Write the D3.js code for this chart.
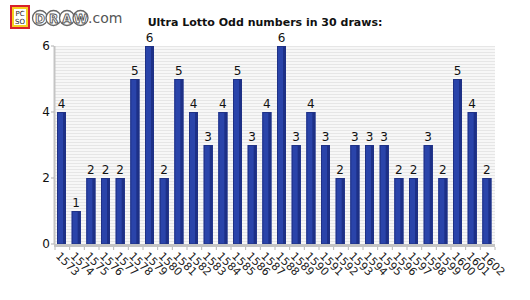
<!DOCTYPE html>
<html>
<head>
<meta charset="utf-8">
<script src="https://cdn.jsdelivr.net/npm/d3@7"></script>
<style>
  body { margin: 0; background: #fff; }
  text { font-family: "DejaVu Sans", sans-serif; }
</style>
</head>
<body>
<div id="chart"></div>
<script>
// Ultra Lotto odd numbers per draw, draws 1573..1602
const draws = ['1573','1574','1575','1576','1577','1578','1579','1580','1581','1582',
  '1583','1584','1585','1586','1587','1588','1589','1590','1591','1592',
  '1593','1594','1595','1596','1597','1598','1599','1600','1601','1602'];
const oddCounts = [4,1,2,2,2,5,6,2,5,4,3,4,5,3,4,6,3,4,3,2,3,3,3,2,2,3,2,5,4,2];
const yTicks = [0, 2, 4, 6];

(function() {
  const W = 530, H = 300;
  const margin = { top: 46, right: 35, bottom: 56, left: 55 };
  const width = W - margin.left - margin.right;
  const height = H - margin.top - margin.bottom;

  const svg = d3.select('#chart').append('svg')
    .attr('width', W).attr('height', H);

  // striped plot background
  const defs = svg.append('defs');
  const pat = defs.append('pattern')
    .attr('id', 'stripes')
    .attr('patternUnits', 'userSpaceOnUse')
    .attr('width', 6).attr('height', 3);
  pat.append('rect').attr('width', 6).attr('height', 3).attr('fill', '#f7f7f7');
  pat.append('rect').attr('width', 6).attr('height', 1).attr('fill', '#e6e6e6');

  const g = svg.append('g')
    .attr('transform', `translate(${margin.left},${margin.top})`);

  const x = d3.scaleBand().domain(draws).range([0, width]);
  const y = d3.scaleLinear().domain([0, 6]).range([height, 0]);

  g.append('rect')
    .attr('width', width).attr('height', height)
    .attr('fill', 'url(#stripes)');

  // bars: lighter body with a darker right edge
  const barW = 9, barOff = 2;
  const bars = g.selectAll('.bar').data(oddCounts).enter().append('g').attr('class', 'bar');
  bars.append('rect')
    .attr('x', (d, i) => x(draws[i]) + barOff)
    .attr('y', d => y(d))
    .attr('width', barW)
    .attr('height', d => y(0) - y(d))
    .attr('fill', '#2a44aa');
  bars.append('rect')
    .attr('x', (d, i) => x(draws[i]) + barOff + barW - 3)
    .attr('y', d => y(d))
    .attr('width', 3)
    .attr('height', d => y(0) - y(d))
    .attr('fill', '#1d3088');
  bars.append('rect')
    .attr('x', (d, i) => x(draws[i]) + barOff + 0.5)
    .attr('y', d => y(d) + 0.5)
    .attr('width', barW - 1)
    .attr('height', d => y(0) - y(d) - 0.5)
    .attr('fill', 'none')
    .attr('stroke', '#1f3185')
    .attr('stroke-width', 1);

  // value labels
  g.selectAll('.val').data(oddCounts).enter().append('text')
    .attr('x', (d, i) => x(draws[i]) + barOff + barW / 2)
    .attr('y', d => y(d) - 4)
    .attr('text-anchor', 'middle')
    .style('font-size', '12px')
    .style('fill', '#111')
    .text(d => d);

  // left axis
  g.append('line')
    .attr('x1', -0.5).attr('x2', -0.5)
    .attr('y1', 0).attr('y2', height)
    .attr('stroke', '#c4c4c4').attr('stroke-width', 2);
  const yAxis = g.append('g');
  yAxis.selectAll('line').data(yTicks).enter().append('line')
    .attr('x1', -4).attr('x2', -1)
    .attr('y1', d => y(d)).attr('y2', d => y(d))
    .attr('stroke', '#b0b0b0');
  yAxis.selectAll('text').data(yTicks).enter().append('text')
    .attr('x', -5)
    .attr('y', d => y(d) + 4)
    .attr('text-anchor', 'end')
    .style('font-size', '12px')
    .style('fill', '#111')
    .text(d => d);

  // bottom axis
  g.append('rect')
    .attr('x', -1).attr('y', height)
    .attr('width', width + 1).attr('height', 3)
    .attr('fill', '#c4c4c4');
  g.selectAll('.xtick').data(draws.concat(['end'])).enter().append('line')
    .attr('x1', (d, i) => i * x.step()).attr('x2', (d, i) => i * x.step())
    .attr('y1', height + 3).attr('y2', height + 6)
    .attr('stroke', '#b8b8b8');

  g.selectAll('.xlab').data(draws).enter().append('text')
    .attr('transform', d => `translate(${x(d) + barOff + 1},${height + 10}) rotate(45)`)
    .attr('text-anchor', 'start')
    .attr('dy', '0.35em')
    .style('font-size', '11px')
    .style('fill', '#222')
    .text(d => d);

  // title
  svg.append('text')
    .attr('x', 265).attr('y', 26)
    .attr('text-anchor', 'middle')
    .style('font-size', '11px')
    .style('font-weight', 'bold')
    .style('fill', '#111')
    .text('Ultra Lotto Odd numbers in 30 draws:');

  // logo
  const logo = svg.append('g').attr('transform', 'translate(10,5)');
  logo.append('rect').attr('width', 20).attr('height', 24)
    .attr('fill', '#d9202a');
  logo.append('rect').attr('x', 2).attr('y', 2).attr('width', 16).attr('height', 20)
    .attr('fill', '#f5d020');
  logo.append('rect').attr('x', 4).attr('y', 4).attr('width', 12).attr('height', 16)
    .attr('fill', '#fff');
  logo.append('text').attr('x', 10).attr('y', 11).attr('text-anchor', 'middle')
    .style('font-size', '7px').style('fill', '#222').text('PC');
  logo.append('text').attr('x', 10).attr('y', 19).attr('text-anchor', 'middle')
    .style('font-size', '7px').style('fill', '#222').text('SO');
  const letters = ['D', 'R', 'A', 'W'];
  letters.forEach((c, i) => {
    const cx = 30 + i * 13.5;
    logo.append('circle').attr('cx', cx).attr('cy', 13).attr('r', 7.5)
      .attr('fill', '#fff').attr('stroke', '#666').attr('stroke-width', 1.3);
    logo.append('text').attr('x', cx).attr('y', 17.5).attr('text-anchor', 'middle')
      .style('font-size', '12px').style('font-weight', 'bold')
      .style('fill', '#fff').style('stroke', '#555').style('stroke-width', 0.9)
      .text(c);
  });
  logo.append('text').attr('x', 78).attr('y', 18)
    .style('font-size', '14px')
    .style('fill', '#555')
    .text('.com');
})();
</script>
</body>
</html>
